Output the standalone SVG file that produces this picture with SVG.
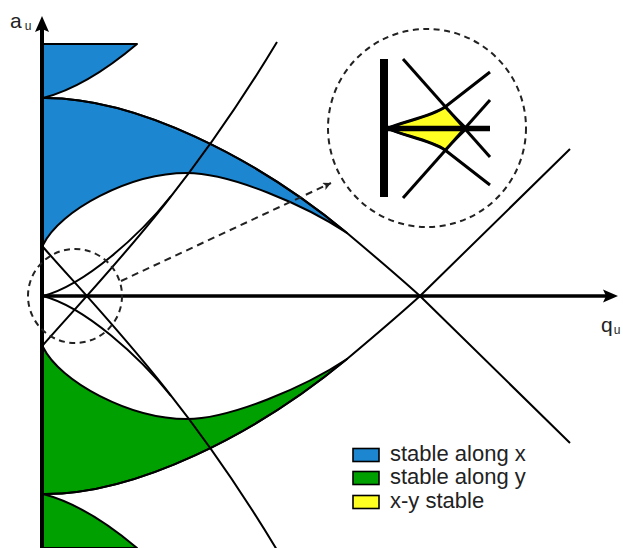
<svg xmlns="http://www.w3.org/2000/svg" xmlns:xlink="http://www.w3.org/1999/xlink" width="623" height="548" viewBox="0 0 623 548">
<style>
.ln{fill:none;stroke:#000;stroke-width:2;stroke-linejoin:round}
.rg{stroke:#000;stroke-width:2;stroke-linejoin:round}
.dash{fill:none;stroke:#222;stroke-width:2;stroke-dasharray:6 4.5}
.ins{fill:none;stroke:#000;stroke-width:3}
.lbl{font-family:"Liberation Sans",Arial,sans-serif;fill:#222}
.sw{stroke:#000;stroke-width:1.6}
</style>
<defs>
<g id="regions">
<path d="M43,44 L137,44 Q86,87 43,98 Z"/>
<path d="M43,98 C135,97 255,157 347,233 C305,205 230,173 187,173 C130,173 60,210 43,245 Z"/>
</g>
<g id="curves">
<path d="M43,98 C135,97 255,157 347,233 C372,254 398,276 420,296 L570,443"/>
<path d="M43,345 C100,280 185,195 277,42"/>
<path d="M43,296 C85,285 140,235 171,196"/>
</g>
<marker id="ah" markerWidth="10" markerHeight="10" refX="8" refY="4" orient="auto" markerUnits="userSpaceOnUse">
<path d="M0,0 L8,4 L0,8 L2,4 Z" fill="#222"/>
</marker>
</defs>
<g id="stability-regions">
<use xlink:href="#regions" href="#regions" class="rg" fill="#1c86d0"/>
<use xlink:href="#regions" href="#regions" class="rg" fill="#00a000" transform="matrix(1 0 0 -1 0 592)"/>
</g>
<g id="connectors">
<use xlink:href="#curves" href="#curves" class="ln"/>
<use xlink:href="#curves" href="#curves" class="ln" transform="matrix(1 0 0 -1 0 592)"/>
<line x1="121" y1="281" x2="331" y2="183" stroke="#222" stroke-width="2" stroke-dasharray="7 5" marker-end="url(#ah)"/>
</g>
<g id="axes">
<line x1="42" y1="548" x2="42" y2="28" stroke="#000" stroke-width="4"/>
<path d="M42,16 L49,32 L42,29 L35,32 Z" fill="#000"/>
<line x1="41" y1="296" x2="606" y2="296" stroke="#000" stroke-width="3.5"/>
<path d="M618,296 L603,302.5 L606,296 L603,289.5 Z" fill="#000"/>
<text class="lbl" x="10" y="28" font-size="21">a<tspan font-size="12" dx="3" dy="2">u</tspan></text>
<text class="lbl" x="601" y="332" font-size="21">q<tspan font-size="12" dx="1" dy="2">u</tspan></text>
</g>
<g id="zoom-small">
<circle class="dash" cx="75" cy="296" r="47"/>
</g>
<g id="zoom-inset">
<circle class="dash" cx="427" cy="128" r="99"/>
<path d="M388,128.5 C400,122 431,117 445,107 L467,128.5 L445,150 C431,140 400,135 388,128.5 Z" fill="#ffff22" stroke="#000" stroke-width="2"/>
<path class="ins" d="M403,59 L490,157"/>
<path class="ins" d="M403,198 L490,100"/>
<path class="ins" d="M388,128.5 C400,122 431,117 445,107 L490,72"/>
<path class="ins" d="M388,128.5 C400,135 431,140 445,150 L490,185"/>
<line x1="386" y1="128.5" x2="490" y2="128.5" stroke="#000" stroke-width="5.5"/>
<rect x="380" y="59" width="8" height="138" fill="#000"/>
</g>
<g id="legend">
<rect class="sw" x="353" y="448.5" width="26" height="13" fill="#1c86d0"/>
<rect class="sw" x="353" y="471.5" width="26" height="13" fill="#00a000"/>
<rect class="sw" x="353" y="495.5" width="26" height="13" fill="#ffff22"/>
<text class="lbl" x="390" y="461" font-size="22">stable along x</text>
<text class="lbl" x="390" y="484" font-size="22">stable along y</text>
<text class="lbl" x="390" y="508" font-size="22">x-y stable</text>
</g>
</svg>
